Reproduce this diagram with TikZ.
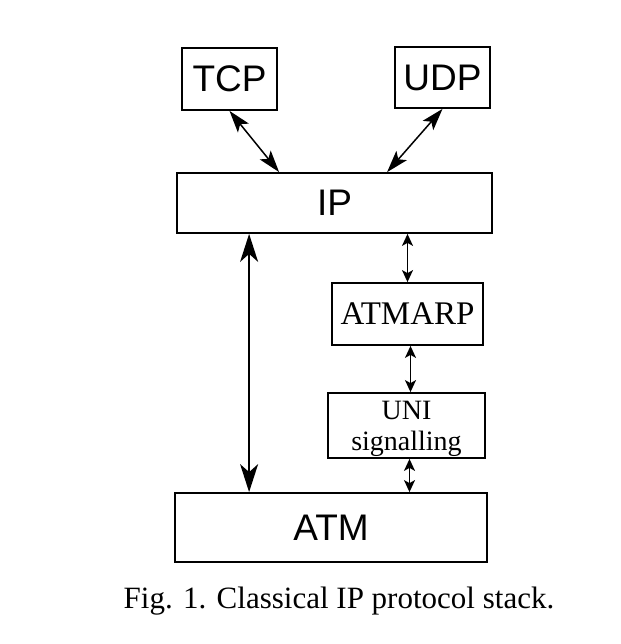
\documentclass[tikz,border=0pt]{standalone}
\usepackage{fontspec}
\setmainfont{Liberation Serif}
\newfontfamily\arialfont{Liberation Sans}
\usetikzlibrary{arrows.meta,calc}
\begin{document}
\begin{tikzpicture}[x=1pt,y=-1pt,
  layerbox/.style={draw, line width=1.8pt, inner sep=0pt, anchor=center},
  sanslabel/.style={font=\arialfont\fontsize{37}{40}\selectfont},
  seriflabel/.style={font=\fontsize{33}{36}\selectfont},
  unilabel/.style={font=\fontsize{28}{28}\selectfont, anchor=base, inner sep=0pt},
  bigarrow/.style={line width=1.5pt, {Stealth[length=28pt,width=18pt,inset=8pt]}-{Stealth[length=28pt,width=18pt,inset=8pt]}},
  midarrow/.style={line width=1.5pt, {Stealth[length=22pt,width=14pt,inset=5pt]}-{Stealth[length=22pt,width=14pt,inset=5pt]}},
  smallarrow/.style={line width=1.5pt, {Stealth[length=12pt,width=11pt,inset=3pt]}-{Stealth[length=12pt,width=11pt,inset=3pt]}}]
\useasboundingbox (0,0) rectangle (620,644);
\fill[white] (0,0) rectangle (620,644);

\node[layerbox, sanslabel, minimum width=95pt, minimum height=62pt] (tcp) at (229.5,79) {TCP};
\node[layerbox, sanslabel, minimum width=95pt, minimum height=61pt] (udp) at (442.5,77.5) {UDP};
\node[layerbox, sanslabel, minimum width=315pt, minimum height=60pt] (ip) at (334.5,203) {IP};
\node[layerbox, seriflabel, minimum width=151pt, minimum height=62pt] (atmarp) at (407.5,314) {ATMARP};
\node[layerbox, minimum width=157pt, minimum height=65pt] (uni) at (406.5,425.5) {};
\node[unilabel] (unitop) at (406.5,419.5) {UNI};
\node[unilabel] (unibot) at (406.5,450.5) {signalling};
\node[layerbox, sanslabel, minimum width=312pt, minimum height=69pt] (atm) at (331,527.5) {ATM};

\node[font=\fontsize{31}{34}\selectfont, anchor=base] (cap) at (339,608) {Fig. 1. Classical IP protocol stack.};

\draw[midarrow] (tcp.south) -- ($(ip.north west)+(103,0)$);
\draw[midarrow] (udp.south) -- ($(ip.north west)+(211,0)$);
\draw[bigarrow] ($(ip.south west)+(73,0)$) -- ($(atm.north west)+(75,0)$);
\draw[smallarrow] (ip.south -| atmarp.north) -- (atmarp.north);
\draw[smallarrow] ($(atmarp.south)+(3,0)$) -- ($(uni.north)+(4,0)$);
\draw[smallarrow] ($(uni.south)+(3,0)$) -- ($(atm.north -| uni.south)+(3,0)$);
\end{tikzpicture}
\end{document}
